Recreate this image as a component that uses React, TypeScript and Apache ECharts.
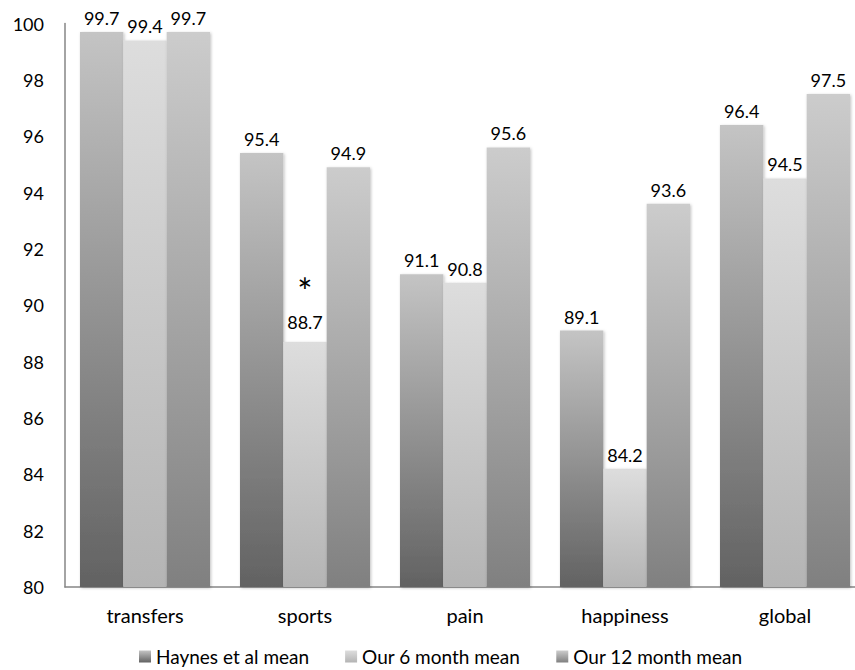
import React, { useEffect, useRef } from "react";
import * as echarts from "echarts";

const categories = ["transfers", "sports", "pain", "happiness", "global"];
const haynes = [99.7, 95.4, 91.1, 89.1, 96.4];
const sixMonth = [99.4, 88.7, 90.8, 84.2, 94.5];
const twelveMonth = [99.7, 94.9, 95.6, 93.6, 97.5];
const seriesNames = ["Haynes et al mean", "Our 6 month mean", "Our 12 month mean"];
const starredCategory = "sports";

const FONT = "Lato";

function grad(top: string, bottom: string) {
  return new echarts.graphic.LinearGradient(0, 0, 0, 1, [
    { offset: 0, color: top },
    { offset: 1, color: bottom },
  ]);
}

export default function App() {
  const ref = useRef<HTMLDivElement>(null);
  useEffect(() => {
    if (!ref.current) return;
    const chart = echarts.init(ref.current, undefined, { renderer: "svg" });
    const colors = [
      grad("#c4c4c4", "#626262"),
      grad("#dddddd", "#b4b4b4"),
      grad("#cccccc", "#808080"),
    ];
    const shadow = {
      shadowColor: "rgba(0,0,0,0.25)",
      shadowBlur: 3,
      shadowOffsetX: 1,
      shadowOffsetY: 1,
    };
    const mk = (name: string, values: number[], idx: number) => ({
      name,
      type: "bar",
      barGap: "0%",
      barCategoryGap: "18.75%",
      itemStyle: { color: colors[idx], ...shadow },
      label: {
        show: true,
        position: "top",
        distance: 5,
        color: "#000",
        fontFamily: FONT,
        fontSize: 18,
      },
      data: values.map((v, i) => {
        if (idx === 1 && categories[i] === starredCategory) {
          return {
            value: v,
            label: {
              formatter: "{s|*}\n{v|{c}}",
              rich: {
                s: { fontSize: 36, lineHeight: 32, fontFamily: FONT, color: "#000" },
                v: { fontSize: 18, lineHeight: 30, fontFamily: FONT, color: "#000" },
              },
            },
          };
        }
        return v;
      }),
    });
    chart.setOption({
      animation: false,
      textStyle: { fontFamily: FONT },
      grid: { left: 65, top: 23.5, right: 15, bottom: 83, containLabel: false },
      legend: {
        data: seriesNames.map((n, i) => ({ name: n, itemStyle: { color: colors[i] } })),
        left: 134,
        top: 642,
        icon: "rect",
        itemWidth: 12,
        itemHeight: 12,
        itemGap: 36,
        textStyle: { fontFamily: FONT, fontSize: 19, color: "#000" },
      },
      xAxis: {
        type: "category",
        data: categories,
        axisLine: { lineStyle: { color: "#868686", width: 1.5 } },
        axisTick: { show: false },
        axisLabel: { color: "#000", fontFamily: FONT, fontSize: 20, margin: 18 },
      },
      yAxis: {
        type: "value",
        min: 80,
        max: 100,
        interval: 2,
        axisLine: { show: true, lineStyle: { color: "#868686", width: 1.5 } },
        axisTick: { show: false },
        splitLine: { show: false },
        axisLabel: { color: "#000", fontFamily: FONT, fontSize: 18, margin: 21 },
      },
      series: [
        mk(seriesNames[0], haynes, 0),
        mk(seriesNames[1], sixMonth, 1),
        mk(seriesNames[2], twelveMonth, 2),
      ],
    });
    return () => chart.dispose();
  }, []);
  return (
    <div
      style={{ position: "fixed", left: 0, top: 0, width: 855, height: 670, overflow: "hidden", background: "#fff" }}
    >
      <div ref={ref} style={{ position: "absolute", left: 0, top: 0, width: 880, height: 670 }} />
    </div>
  );
}
